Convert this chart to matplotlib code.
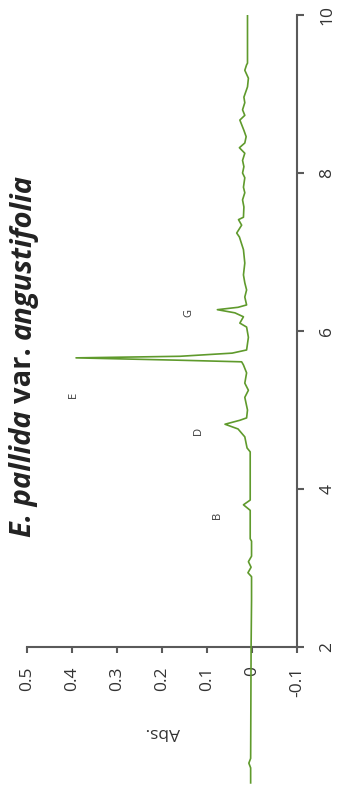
import matplotlib.pyplot as plt

# HPLC trace: retention time (min) against absorbance
rt = [0.28, 0.47, 0.53, 0.59, 2.00, 2.59, 2.89, 2.94, 3.01, 3.08, 3.15, 3.34, 3.37,
      3.73, 3.80, 3.86, 4.47, 4.52, 4.66, 4.76, 4.82, 4.87, 4.90, 5.00, 5.16, 5.25,
      5.34, 5.47, 5.57, 5.61, 5.63, 5.66, 5.68, 5.72, 5.76, 5.92, 6.05, 6.10, 6.18,
      6.23, 6.27, 6.30, 6.33, 6.43, 6.52, 6.61, 6.71, 6.86, 7.03, 7.19, 7.24, 7.34,
      7.41, 7.44, 7.57, 7.66, 7.75, 7.82, 7.94, 8.00, 8.08, 8.16, 8.25, 8.32, 8.38,
      8.46, 8.54, 8.67, 8.73, 8.80, 8.89, 8.96, 9.09, 9.20, 9.30, 9.37, 9.39, 10.0]
absorbance = [0.003, 0.003, 0.007, 0.003, 0.002, 0.001, 0.001, 0.009, 0.002, 0.008,
              0.001, 0.001, 0.004, 0.004, 0.019, 0.004, 0.004, 0.011, 0.016, 0.031,
              0.060, 0.027, 0.012, 0.010, 0.016, 0.008, 0.016, 0.012, 0.019, 0.023,
              0.160, 0.391, 0.160, 0.044, 0.012, 0.008, 0.012, 0.027, 0.019, 0.038,
              0.077, 0.031, 0.012, 0.016, 0.012, 0.016, 0.019, 0.016, 0.019, 0.028,
              0.034, 0.023, 0.030, 0.019, 0.018, 0.021, 0.016, 0.019, 0.016, 0.021,
              0.018, 0.021, 0.016, 0.028, 0.016, 0.013, 0.018, 0.027, 0.016, 0.021,
              0.016, 0.018, 0.010, 0.008, 0.016, 0.012, 0.010, 0.010]

peak_names = ['B', 'D', 'E', 'G']
peak_label_rt = [3.67, 4.73, 5.19, 6.23]
peak_label_abs = [0.078, 0.120, 0.398, 0.140]

abs_ticks = [-0.1, 0.0, 0.1, 0.2, 0.3, 0.4, 0.5]
abs_tick_labels = ['-0.1', '0', '0.1', '0.2', '0.3', '0.4', '0.5']
rt_ticks = [2, 4, 6, 8, 10]
rt_tick_labels = ['2', '4', '6', '8', '10']

title_parts = [('E. pallida', 'italic'), ('var.', 'normal'), ('angustifolia', 'italic')]

plt.rcParams['font.family'] = ['Open Sans', 'DejaVu Sans']

W, H = 340, 787
fig = plt.figure(figsize=(W / 100, H / 100), dpi=100)
fig.patch.set_facecolor('white')
# the plot is laid out turned a quarter turn: absorbance runs right-to-left, time runs upward
ax = fig.add_axes([27 / W, 0, 270 / W, 772 / H])

ax.plot(absorbance, rt, color='#5f9a2c', lw=1.2, zorder=5)

ax.set_xlim(0.5, -0.1)
ax.set_ylim(0.228, 10)

axis_col = '#5a5a5a'
for side in ['left', 'top']:
    ax.spines[side].set_visible(False)
ax.spines['bottom'].set_position(('data', 2))
ax.spines['bottom'].set_bounds(-0.1, 0.5)
ax.spines['right'].set_bounds(2, 10)
for side in ['bottom', 'right']:
    ax.spines[side].set_color(axis_col)
    ax.spines[side].set_linewidth(1.5)

ax.yaxis.tick_right()
ax.set_xticks(abs_ticks)
ax.set_xticklabels(abs_tick_labels, rotation=90, va='top', ha='center')
ax.set_yticks(rt_ticks)
ax.set_yticklabels(rt_tick_labels, rotation=90, va='center', ha='left')
ax.tick_params(axis='x', direction='out', length=4, width=1.5, color=axis_col,
               labelsize=12.5, labelcolor='#333333', pad=10)
ax.tick_params(axis='y', direction='out', length=5, width=1.5, color=axis_col,
               labelsize=12.5, labelcolor='#333333', pad=11)

ax.text(0.198, 0.92, 'Abs.', rotation=180, ha='center', va='center',
        fontsize=12.5, color='#333333')

for name, t, a in zip(peak_names, peak_label_rt, peak_label_abs):
    ax.text(a, t, name, rotation=90, ha='center', va='center', fontsize=8, color='#333333')

# title made of bold pieces, italic for the plant name, stacked upward
title_size = 21
fig.canvas.draw()
renderer = fig.canvas.get_renderer()
probe1 = fig.text(0, 0, 'x x', fontsize=title_size, fontweight='bold', fontstyle='italic')
probe2 = fig.text(0, 0, 'xx', fontsize=title_size, fontweight='bold', fontstyle='italic')
space = probe1.get_window_extent(renderer).width - probe2.get_window_extent(renderer).width
probe1.remove()
probe2.remove()

base_x = 31 / W
y_px = H - 537
for txt, style in title_parts:
    t = fig.text(base_x, y_px / H, txt, rotation=90, rotation_mode='anchor',
                 ha='left', va='baseline', fontsize=title_size, fontweight='bold',
                 fontstyle=style, color='#222222')
    y_px += t.get_window_extent(renderer).height + space

fig.savefig('out.png', dpi=100)
